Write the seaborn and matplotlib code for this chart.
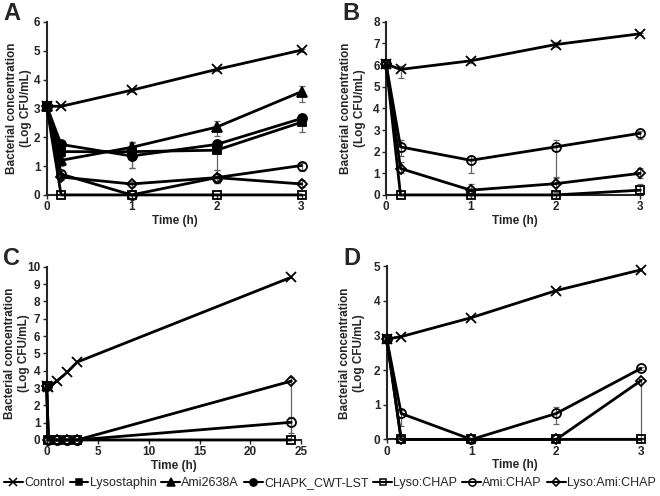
import numpy as np
import pandas as pd
import matplotlib
matplotlib.use('Agg')
import matplotlib.pyplot as plt
import seaborn as sns

# series names and marker styles (shared by all panels)
names = ['Control', 'Lysostaphin', 'Ami2638A', 'CHAPK_CWT-LST',
         'Lyso:CHAP', 'Ami:CHAP', 'Lyso:Ami:CHAP']

# Panel A (time in h)
t_a = [0, 0.17, 1, 2, 3]
a_control = [3.08, 3.07, 3.63, 4.35, 5.02]
a_lysostaphin = [3.08, 1.5, 1.5, 1.55, 2.52]
a_ami2638a = [3.08, 1.2, 1.65, 2.35, 3.58]
a_chapk = [3.08, 1.75, 1.35, 1.75, 2.65]
a_lyso_chap = [3.08, 0, 0, 0, 0]
a_ami_chap = [3.08, 0.72, 0.0, 0.6, 1.02]
a_lyso_ami_chap = [3.08, 0.62, 0.38, 0.6, 0.38]
# error bars (lower, upper)
a_control_err = ([0, 0, 0.05, 0.05, 0.05], [0, 0, 0.05, 0.05, 0.05])
a_lysostaphin_err = ([0, 0.2, 0.55, 0.95, 0.35], [0, 0.2, 0.35, 0.1, 0.1])
a_ami2638a_err = ([0, 0.2, 0.15, 0.3, 0.35], [0, 0.2, 0.15, 0.2, 0.2])
a_chapk_err = ([0, 0.1, 0.4, 0.1, 0.1], [0, 0.1, 0.5, 0.1, 0.1])
a_ami_chap_err = ([0, 0.15, 0, 0.2, 0.2], [0, 0.1, 0, 0.25, 0.1])
a_lyso_ami_chap_err = ([0, 0.1, 0.1, 0.2, 0.1], [0, 0.1, 0.1, 0.25, 0.15])

# Panel B
t_b = [0, 0.17, 1, 2, 3]
b_control = [6.05, 5.8, 6.2, 6.95, 7.45]
b_lyso_chap = [6.05, 0, 0, 0, 0.22]
b_ami_chap = [6.05, 2.22, 1.6, 2.22, 2.85]
b_lyso_ami_chap = [6.05, 1.22, 0.22, 0.52, 1.0]
b_control_err = ([0, 0.4, 0.1, 0.1, 0.05], [0, 0.15, 0.1, 0.1, 0.05])
b_lyso_chap_err = ([0, 0, 0, 0, 0.22], [0, 0, 0, 0, 0.3])
b_ami_chap_err = ([0, 0.4, 0.6, 1.42, 0.25], [0, 0.3, 0.2, 0.3, 0.1])
b_lyso_ami_chap_err = ([0, 0.2, 0.22, 0.4, 0.2], [0, 0.3, 0.3, 0.3, 0.25])

# Panel C
t_c = [0, 0.17, 1, 2, 3, 24]
c_control = [3.1, 3.05, 3.4, 3.9, 4.5, 9.4]
c_lyso_chap = [3.1, 0, 0, 0, 0, 0]
c_ami_chap = [3.1, 0, 0, 0, 0, 1.02]
c_lyso_ami_chap = [3.1, 0, 0, 0, 0, 3.4]
c_ami_chap_err = ([0, 0, 0, 0, 0, 0.6], [0, 0, 0, 0, 0, 0.3])
c_lyso_ami_chap_err = ([0, 0, 0, 0, 0, 3.4], [0, 0, 0, 0, 0, 0.25])

# Panel D
t_d = [0, 0.17, 1, 2, 3]
d_control = [2.9, 2.97, 3.52, 4.3, 4.9]
d_lyso_chap = [2.9, 0, 0, 0, 0]
d_ami_chap = [2.9, 0.75, 0, 0.75, 2.05]
d_lyso_ami_chap = [2.9, 0, 0, 0, 1.7]
d_ami_chap_err = ([0, 0.35, 0, 0.3, 0.05], [0, 0.1, 0, 0.2, 0.05])
d_lyso_ami_chap_err = ([0, 0, 0, 0, 1.7], [0, 0, 0, 0, 0.05])

style = {
    'Control': dict(marker='x', ms=7, mfc='black'),
    'Lysostaphin': dict(marker='s', ms=6, mfc='black'),
    'Ami2638A': dict(marker='^', ms=6.5, mfc='black'),
    'CHAPK_CWT-LST': dict(marker='o', ms=6.5, mfc='black'),
    'Lyso:CHAP': dict(marker='s', ms=6, mfc='none'),
    'Ami:CHAP': dict(marker='o', ms=6.5, mfc='none'),
    'Lyso:Ami:CHAP': dict(marker='D', ms=5, mfc='none'),
}

sns.set_style('ticks')
plt.rcParams['font.family'] = ['Liberation Sans', 'DejaVu Sans']
plt.rcParams['font.weight'] = 'bold'

fig = plt.figure(figsize=(6.6, 4.96), dpi=100)


def draw(ax, t, name, y, err=None):
    if err is not None:
        ax.errorbar(t, y, yerr=[err[0], err[1]], fmt='none', ecolor='0.4',
                    elinewidth=0.9, capsize=2, capthick=0.9, zorder=1, clip_on=False)
    st = style[name]
    sns.lineplot(x=t, y=y, ax=ax, color='black', lw=2, sort=False,
                 marker=st['marker'], markersize=st['ms'], mfc=st['mfc'],
                 mec='black', mew=1.3, zorder=3, clip_on=False)


def setup(ax, xmax, xticks, ymax, letter, ylab_x):
    ax.set_xlim(0, xmax)
    ax.set_ylim(0, ymax)
    ax.set_xticks(xticks)
    ax.set_yticks(range(0, ymax + 1))
    sns.despine(ax=ax)
    for s in ['left', 'bottom']:
        ax.spines[s].set_linewidth(1.5)
    ax.tick_params(direction='out', length=3, width=1, labelsize=8.5, pad=1.5)
    for lab in ax.get_xticklabels() + ax.get_yticklabels():
        lab.set_fontweight('bold')
    ax.set_xlabel('Time (h)', fontsize=8.5, fontweight='bold', labelpad=1)
    ax.set_ylabel('Bacterial concentration\n(Log CFU/mL)', fontsize=8.5,
                  fontweight='bold', linespacing=1.2)
    ax.yaxis.set_label_coords(ylab_x, 0.5)
    bb = ax.get_position()
    fig.text(bb.x0 - 0.066, bb.y1 + 0.04, letter, fontsize=17,
             fontweight='bold', va='top', ha='left')


ax_a = fig.add_axes([0.0707, 0.607, 0.390, 0.349])
ax_b = fig.add_axes([0.585, 0.607, 0.389, 0.349])
ax_c = fig.add_axes([0.0707, 0.113, 0.386, 0.349])
ax_d = fig.add_axes([0.586, 0.114, 0.389, 0.349])

# A
draw(ax_a, t_a, 'Control', a_control, a_control_err)
draw(ax_a, t_a, 'Lysostaphin', a_lysostaphin, a_lysostaphin_err)
draw(ax_a, t_a, 'Ami2638A', a_ami2638a, a_ami2638a_err)
draw(ax_a, t_a, 'CHAPK_CWT-LST', a_chapk, a_chapk_err)
draw(ax_a, t_a, 'Lyso:CHAP', a_lyso_chap)
draw(ax_a, t_a, 'Ami:CHAP', a_ami_chap, a_ami_chap_err)
draw(ax_a, t_a, 'Lyso:Ami:CHAP', a_lyso_ami_chap, a_lyso_ami_chap_err)
setup(ax_a, 3.03, [0, 1, 2, 3], 6, 'A', -0.058)

# B
draw(ax_b, t_b, 'Control', b_control, b_control_err)
draw(ax_b, t_b, 'Lyso:CHAP', b_lyso_chap, b_lyso_chap_err)
draw(ax_b, t_b, 'Ami:CHAP', b_ami_chap, b_ami_chap_err)
draw(ax_b, t_b, 'Lyso:Ami:CHAP', b_lyso_ami_chap, b_lyso_ami_chap_err)
setup(ax_b, 3.03, [0, 1, 2, 3], 8, 'B', -0.08)

# C
draw(ax_c, t_c, 'Control', c_control)
draw(ax_c, t_c, 'Lyso:CHAP', c_lyso_chap)
draw(ax_c, t_c, 'Ami:CHAP', c_ami_chap, c_ami_chap_err)
draw(ax_c, t_c, 'Lyso:Ami:CHAP', c_lyso_ami_chap, c_lyso_ami_chap_err)
setup(ax_c, 25, [0, 5, 10, 15, 20, 25], 10, 'C', -0.066)

# D
draw(ax_d, t_d, 'Control', d_control)
draw(ax_d, t_d, 'Lyso:CHAP', d_lyso_chap)
draw(ax_d, t_d, 'Ami:CHAP', d_ami_chap, d_ami_chap_err)
draw(ax_d, t_d, 'Lyso:Ami:CHAP', d_lyso_ami_chap, d_lyso_ami_chap_err)
setup(ax_d, 3.03, [0, 1, 2, 3], 5, 'D', -0.085)

# shared legend at the bottom
handles = []
for n in names:
    st = style[n]
    h = plt.Line2D([], [], color='black', lw=1.5, marker=st['marker'],
                   markersize=st['ms'] * 0.8, mfc=st['mfc'], mec='black', mew=1.1)
    handles.append(h)
leg = fig.legend(handles, names, loc='center', bbox_to_anchor=(0.5, 0.026), ncol=7,
                 frameon=False, fontsize=9, handlelength=1.5, handletextpad=0.1,
                 columnspacing=0.4, borderaxespad=0)
for txt in leg.get_texts():
    txt.set_fontweight('normal')

fig.savefig('out.png', dpi=100)
